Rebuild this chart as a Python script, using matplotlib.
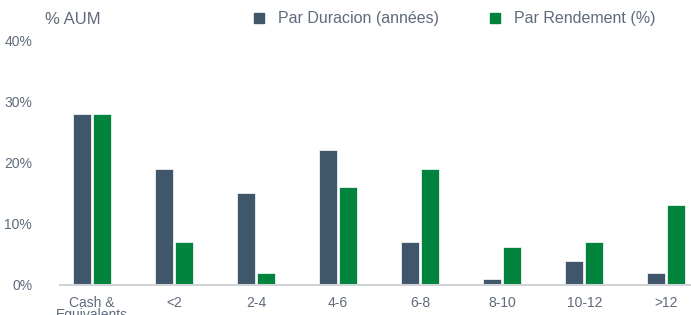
import numpy as np
import matplotlib.pyplot as plt
from matplotlib.patches import Patch

categories = ["Cash &\nEquivalents", "<2", "2-4", "4-6", "6-8", "8-10", "10-12", ">12"]
duracion = [28, 19, 15, 22, 7, 1, 4, 2]
rendement = [28, 7, 2, 16, 19, 6.2, 7, 13]
yticks = [0, 10, 20, 30, 40]

dark = "#3f566b"
green = "#00843d"
grey_text = "#5f6b7a"

plt.rcParams['font.family'] = ['Liberation Sans', 'DejaVu Sans']

fig = plt.figure(figsize=(6.91, 3.15), dpi=100)
ax = fig.add_axes([60 / 691, 1 - 285 / 315, 1 - 60 / 691, (285 - 40) / 315])

x = np.arange(len(categories))
w = 0.22
ax.bar(x - 0.122, duracion, width=w, color=dark, edgecolor="white", linewidth=0.5)
ax.bar(x + 0.122, rendement, width=w, color=green, edgecolor="white", linewidth=0.5)

ax.set_xlim(-0.39, 7.30)
ax.set_ylim(0, 40)
ax.set_yticks(yticks)
ax.set_yticklabels([f"{v}%" for v in yticks])
ax.set_xticks(x)
ax.set_xticklabels(categories, linespacing=0.85)

for s in ["top", "right", "left"]:
    ax.spines[s].set_visible(False)
ax.spines["bottom"].set_color("#d0d3d8")
ax.spines["bottom"].set_linewidth(1.5)
ax.tick_params(axis="both", length=0, colors=grey_text, labelsize=10)
ax.tick_params(axis="y", pad=20)
ax.tick_params(axis="x", pad=8)

fig.text(45 / 691, 1 - 19 / 315, "% AUM", fontsize=12, color=grey_text, va="center")

handles = [Patch(color=dark), Patch(color=green)]
fig.legend(handles, ["Par Duracion (années)", "Par Rendement (%)"], ncol=2,
           loc="center left", bbox_to_anchor=(254 / 691, 1 - 19 / 315),
           frameon=False, fontsize=11.5, labelcolor=grey_text,
           handlelength=0.6, handleheight=0.6, handletextpad=0.9,
           columnspacing=3.2, borderaxespad=0, borderpad=0)

fig.savefig("out.png", dpi=100)
